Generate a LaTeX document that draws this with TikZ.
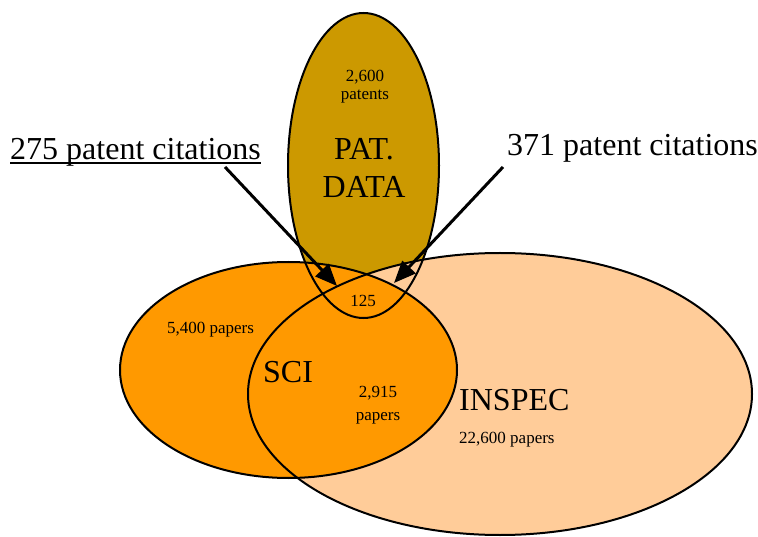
\documentclass[tikz,border=0pt]{standalone}
\usepackage{fontspec}
\setmainfont{Liberation Serif}
\usetikzlibrary{arrows.meta}
\definecolor{patgold}{HTML}{CC9900}
\definecolor{sciorange}{HTML}{FF9900}
\definecolor{inspecpeach}{HTML}{FFCC99}
\begin{document}
\begin{tikzpicture}[x=1pt,y=-1pt,
  outline/.style={draw=black,line width=2pt},
  big/.style={font=\fontsize{32}{38}\selectfont,inner sep=0pt},
  small/.style={font=\fontsize{17}{20}\selectfont,inner sep=0pt,align=center},
  pointer/.style={line width=3pt,-{Triangle[length=22pt,width=18pt]}}]
\useasboundingbox (0,0) rectangle (758,537);
% fills (layered)
\fill[patgold] (363.5,165.5) ellipse [x radius=75.5,y radius=152.5];
\fill[inspecpeach] (500,394) ellipse [x radius=252,y radius=141];
\fill[sciorange] (288.5,370) ellipse [x radius=168.5,y radius=108];
% outlines
\draw[outline] (363.5,165.5) ellipse [x radius=75.5,y radius=152.5];
\draw[outline] (500,394) ellipse [x radius=252,y radius=141];
\draw[outline] (288.5,370) ellipse [x radius=168.5,y radius=108];
% labels
\node[small,anchor=base] (patn) at (365,82) {2,600};
\node[small,anchor=base] (patw) at (365,100) {patents};
\node[big,anchor=base] (pat1) at (364,160) {PAT.};
\node[big,anchor=base] (pat2) at (364,198) {DATA};
\node[small,anchor=base] (n125) at (363,307) {125};
\node[small,anchor=base] (sci5400) at (210.5,334) {5,400 papers};
\node[big,anchor=base west] (sci) at (263,383) {SCI};
\node[small,anchor=base] (n2915) at (378,397) {2,915};
\node[small,anchor=base] (n2915b) at (378,420) {papers};
\node[big,anchor=base west] (inspec) at (459,410) {INSPEC};
\node[small,anchor=base west] (insp) at (459,443) {22,600 papers};
\node[big,anchor=base west] (cit275) at (10,160) {275 patent citations};
\node[big,anchor=base west] (cit371) at (507,156) {371 patent citations};
\draw[line width=2pt] ([yshift=-3pt]cit275.base west) -- ([yshift=-3pt]cit275.base east);
% arrows
\coordinate (s275) at (225,167);
\coordinate (t275) at (337,286);
\coordinate (s371) at (503,167);
\coordinate (t371) at (394,283);
\draw[pointer] (s275) -- (t275);
\draw[pointer] (s371) -- (t371);
\end{tikzpicture}
\end{document}
